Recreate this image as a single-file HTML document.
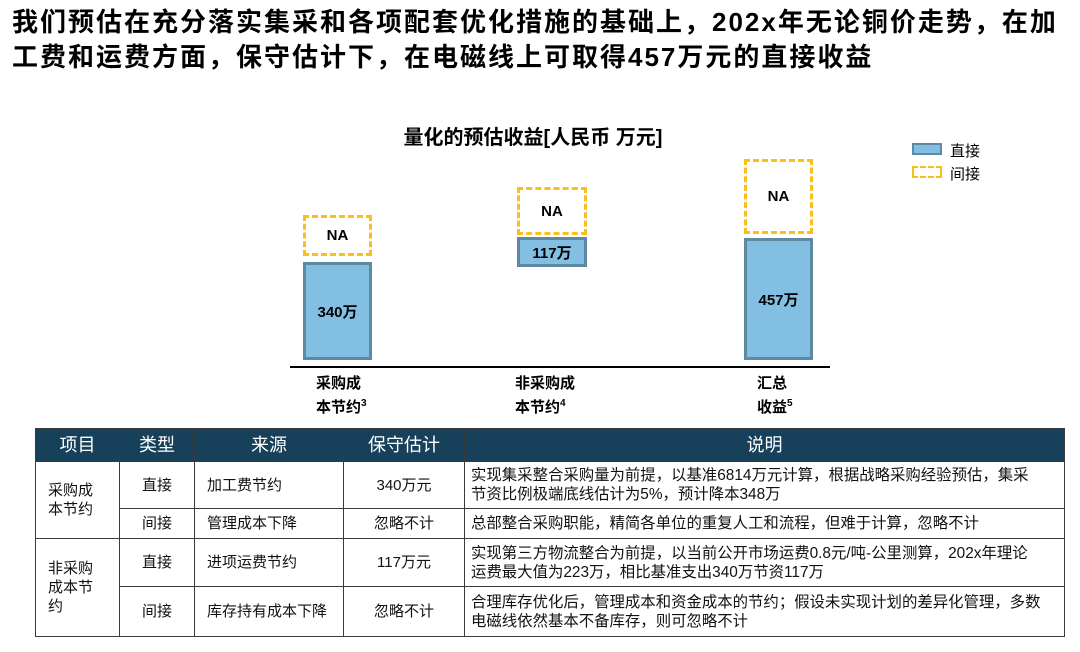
<!DOCTYPE html>
<html><head><meta charset="utf-8"><style>
body{margin:0;width:1080px;height:652px;background:#fff;font-family:"Liberation Sans","Noto Sans CJK SC",sans-serif;position:relative;overflow:hidden}
.a{position:absolute}
.t{left:12px;top:5px;font-size:26px;letter-spacing:2px;font-weight:bold;line-height:35px;color:#000;width:1075px;white-space:nowrap}
.ct{left:0;width:1066px;text-align:center;top:121px;font-size:20px;font-weight:bold}
.bar{background:#82bfe3;border:3px solid #5d89a3;box-sizing:border-box;display:flex;align-items:center;justify-content:center;font-weight:bold;font-size:15px}
.na{border:3px dashed #fbbf1b;box-sizing:border-box;display:flex;align-items:center;justify-content:center;font-weight:bold;font-size:15px}
.lb{font-weight:bold;font-size:15px;line-height:20px}
.lb sup{font-size:10px}
table{position:absolute;left:35px;top:428px;width:1030px;table-layout:fixed;border-collapse:collapse;font-size:15px;color:#111}
td,th{border:1.5px solid #3a3a3a;padding:0 6px;line-height:19px}
td:last-child{white-space:nowrap;font-size:15.4px;overflow:hidden}
th{background:#17415a;color:#fff;font-weight:normal;font-size:18px;height:32px}
.c{text-align:center}
.p{padding-left:12px}
</style></head><body>
<div class="a t">我们预估在充分落实集采和各项配套优化措施的基础上，202x年无论铜价走势，在加<br>工费和运费方面，保守估计下，在电磁线上可取得457万元的直接收益</div>
<div class="a ct">量化的预估收益[人民币 万元]</div>
<div class="a" style="left:912px;top:143px;width:30px;height:12px;background:#82bfe3;border:2px solid #5d89a3;box-sizing:border-box"></div>
<div class="a" style="left:950px;top:140px;font-size:15px">直接</div>
<div class="a" style="left:912px;top:166px;width:30px;height:12px;border:2.5px dashed #fbbf1b;box-sizing:border-box"></div>
<div class="a" style="left:950px;top:163px;font-size:15px">间接</div>

<div class="a na" style="left:303px;top:215px;width:69px;height:41px">NA</div>
<div class="a bar" style="left:303px;top:262px;width:69px;height:98px">340万</div>
<div class="a na" style="left:517px;top:187px;width:70px;height:48px">NA</div>
<div class="a bar" style="left:517px;top:237px;width:70px;height:30px">117万</div>
<div class="a na" style="left:744px;top:159px;width:69px;height:75px">NA</div>
<div class="a bar" style="left:744px;top:238px;width:69px;height:122px">457万</div>
<div class="a" style="left:290px;top:366px;width:540px;height:1.5px;background:#000"></div>
<div class="a lb" style="left:316px;top:374px">采购成<br>本节约<sup>3</sup></div>
<div class="a lb" style="left:515px;top:374px">非采购成<br>本节约<sup>4</sup></div>
<div class="a lb" style="left:757px;top:374px">汇总<br>收益<sup>5</sup></div>

<table>
<colgroup><col style="width:84px"><col style="width:75px"><col style="width:149px"><col style="width:121px"><col></colgroup>
<tr><th>项目</th><th>类型</th><th>来源</th><th>保守估计</th><th>说明</th></tr>
<tr style="height:47px"><td rowspan="2" class="p">采购成<br>本节约</td><td class="c">直接</td><td class="p">加工费节约</td><td class="c">340万元</td><td>实现集采整合采购量为前提，以基准6814万元计算，根据战略采购经验预估，集采<br>节资比例极端底线估计为5%，预计降本348万</td></tr>
<tr style="height:30px"><td class="c">间接</td><td class="p">管理成本下降</td><td class="c">忽略不计</td><td>总部整合采购职能，精简各单位的重复人工和流程，但难于计算，忽略不计</td></tr>
<tr style="height:48px"><td rowspan="2" class="p">非采购<br>成本节<br>约</td><td class="c">直接</td><td class="p">进项运费节约</td><td class="c">117万元</td><td>实现第三方物流整合为前提，以当前公开市场运费0.8元/吨-公里测算，202x年理论<br>运费最大值为223万，相比基准支出340万节资117万</td></tr>
<tr style="height:50px"><td class="c">间接</td><td class="p">库存持有成本下降</td><td class="c">忽略不计</td><td>合理库存优化后，管理成本和资金成本的节约；假设未实现计划的差异化管理，多数<br>电磁线依然基本不备库存，则可忽略不计</td></tr>
</table>
</body></html>
